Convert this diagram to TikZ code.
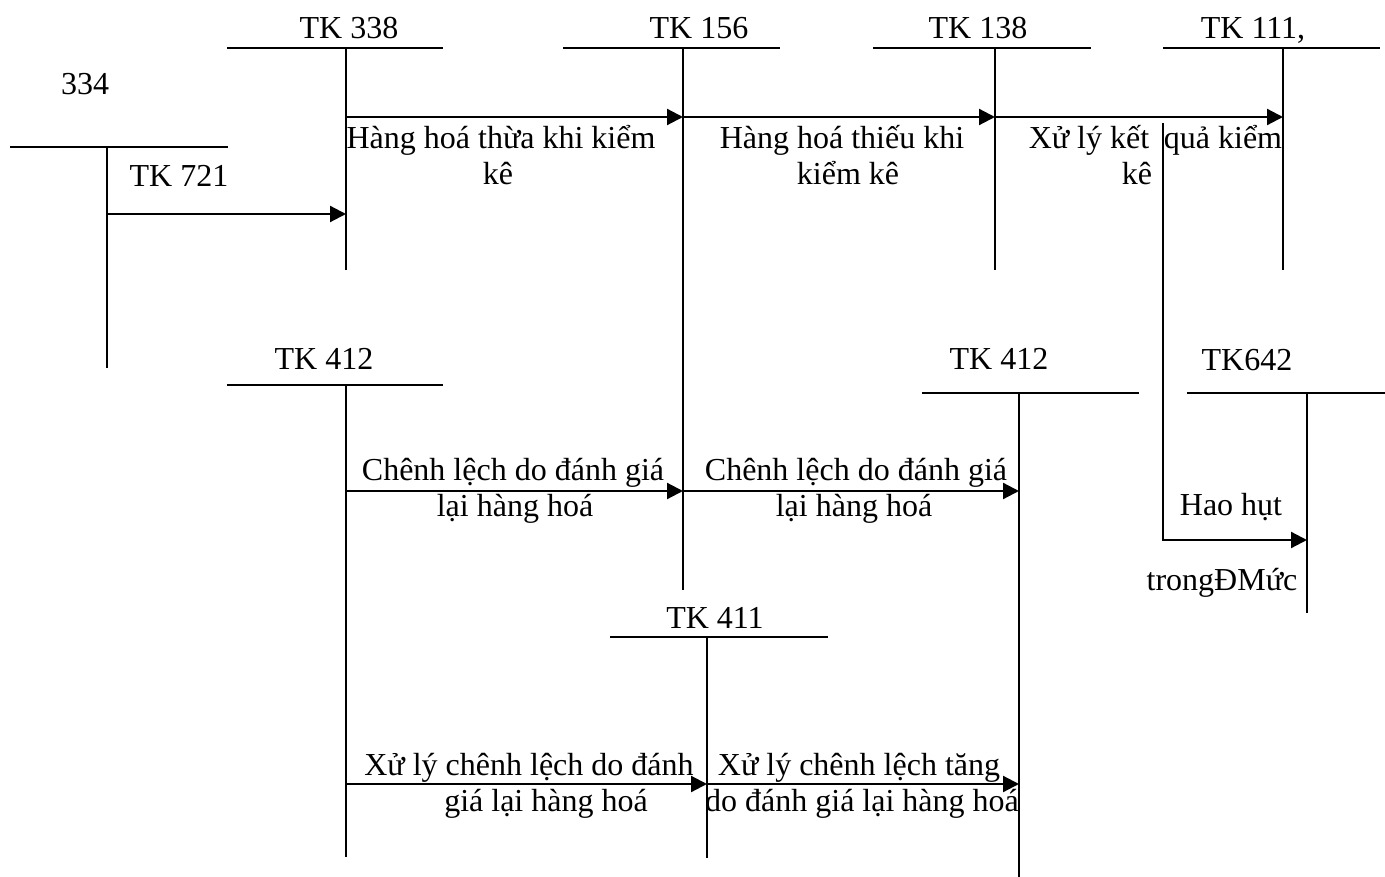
\documentclass[tikz,border=0pt]{standalone}
\usepackage{fontspec}
\setmainfont{Liberation Serif}
\usetikzlibrary{arrows.meta}
\begin{document}
\begin{tikzpicture}[x=1pt,y=-1pt,
  acc/.style={line width=2.2pt},
  flow/.style={line width=2.2pt,-{Triangle[length=16pt,width=16pt]}},
  lbl/.style={inner sep=0pt,anchor=base,yshift=-2pt,font=\fontsize{32}{36}\selectfont}]
\useasboundingbox (0,0) rectangle (1385,877);
% ---- T-accounts (top row)
\node[lbl] (t338) at (349,37) {TK 338};
\node[lbl] (t156) at (699,37) {TK 156};
\node[lbl] (t138) at (978,37) {TK 138};
\node[lbl] (t111) at (1253,37) {TK 111,};
\node[lbl] (n334) at (85,93) {334};
\node[lbl] (t721) at (179,185) {TK 721};
\coordinate (a338l) at (227,48); \coordinate (a338r) at (443,48);
\coordinate (a338t) at (346,48); \coordinate (a338b) at (346,270);
\coordinate (a156l) at (563,48); \coordinate (a156r) at (780,48);
\coordinate (a156t) at (683,48); \coordinate (a156b) at (683,590);
\coordinate (a138l) at (873,48); \coordinate (a138r) at (1091,48);
\coordinate (a138t) at (995,48); \coordinate (a138b) at (995,270);
\coordinate (a111l) at (1163,48); \coordinate (a111r) at (1380,48);
\coordinate (a111t) at (1283,48); \coordinate (a111b) at (1283,270);
\coordinate (a721l) at (10,147); \coordinate (a721r) at (228,147);
\coordinate (a721t) at (107,147); \coordinate (a721b) at (107,368);
\foreach \a in {338,156,138,111,721}{
  \draw[acc] (a\a l) -- (a\a r);
  \draw[acc] (a\a t) -- (a\a b);
}
% ---- T-accounts (lower)
\node[lbl] (t412a) at (324,368) {TK 412};
\node[lbl] (t412b) at (999,368) {TK 412};
\node[lbl] (t642) at (1247,369) {TK642};
\node[lbl] (t411) at (715,626) {TK 411};
\coordinate (b412l) at (227,385); \coordinate (b412r) at (443,385);
\coordinate (b412t) at (346,385); \coordinate (b412b) at (346,857);
\coordinate (c412l) at (922,393); \coordinate (c412r) at (1139,393);
\coordinate (c412t) at (1019,393); \coordinate (c412b) at (1019,877);
\coordinate (d642l) at (1187,393); \coordinate (d642r) at (1385,393);
\coordinate (d642t) at (1307,393); \coordinate (d642b) at (1307,613);
\coordinate (e411l) at (610,637); \coordinate (e411r) at (828,637);
\coordinate (e411t) at (707,637); \coordinate (e411b) at (707,858);
\foreach \p in {b412,c412,d642,e411}{
  \draw[acc] (\p l) -- (\p r);
  \draw[acc] (\p t) -- (\p b);
}
% ---- flows top
\coordinate (f721) at (107,214); \coordinate (f338in) at (346,214);
\draw[flow] (f721) -- (f338in);
\coordinate (g338) at (346,117); \coordinate (g156) at (683,117);
\coordinate (g138) at (995,117); \coordinate (g111) at (1283,117);
\draw[flow] (g338) -- (g156);
\draw[flow] (g156) -- (g138);
\draw[flow] (g138) -- (g111);
\node[lbl] (h1a) at (501,147) {Hàng hoá thừa khi kiểm};
\node[lbl] (h1b) at (498,183) {kê};
\node[lbl] (h2a) at (842,147) {Hàng hoá thiếu khi};
\node[lbl] (h2b) at (848,183) {kiểm kê};
\node[lbl] (h3a) at (1089,147) {Xử lý kết};
\node[lbl] (h3b) at (1137,183) {kê};
\node[lbl] (h3c) at (1223,147) {quả kiểm};
% ---- shortage branch to TK642
\coordinate (k1) at (1163,123); \coordinate (k2) at (1163,540);
\coordinate (k642) at (1307,540);
\draw[flow] (k1) -- (k2) -- (k642);
\node[lbl] (hao) at (1231,513) {Hao hụt};
\node[lbl] (trong) at (1222,588) {trongĐMức};
% ---- revaluation flows
\coordinate (m412) at (346,491); \coordinate (m156) at (683,491);
\coordinate (m412b) at (1019,491);
\draw[flow] (m412) -- (m156);
\draw[flow] (m156) -- (m412b);
\node[lbl] (c1a) at (513,478) {Chênh lệch do đánh giá};
\node[lbl] (c1b) at (515,514) {lại hàng hoá};
\node[lbl] (c2a) at (856,478) {Chênh lệch do đánh giá};
\node[lbl] (c2b) at (854,514) {lại hàng hoá};
\coordinate (p412) at (346,784); \coordinate (p411) at (707,784);
\coordinate (p412b) at (1019,784);
\draw[flow] (p412) -- (p411);
\draw[flow] (p411) -- (p412b);
\node[lbl] (x1a) at (529,773) {Xử lý chênh lệch do đánh};
\node[lbl] (x1b) at (546,809) {giá lại hàng hoá};
\node[lbl] (x2a) at (859,773) {Xử lý chênh lệch tăng};
\node[lbl] (x2b) at (862,809) {do đánh giá lại hàng hoá};
\end{tikzpicture}
\end{document}
